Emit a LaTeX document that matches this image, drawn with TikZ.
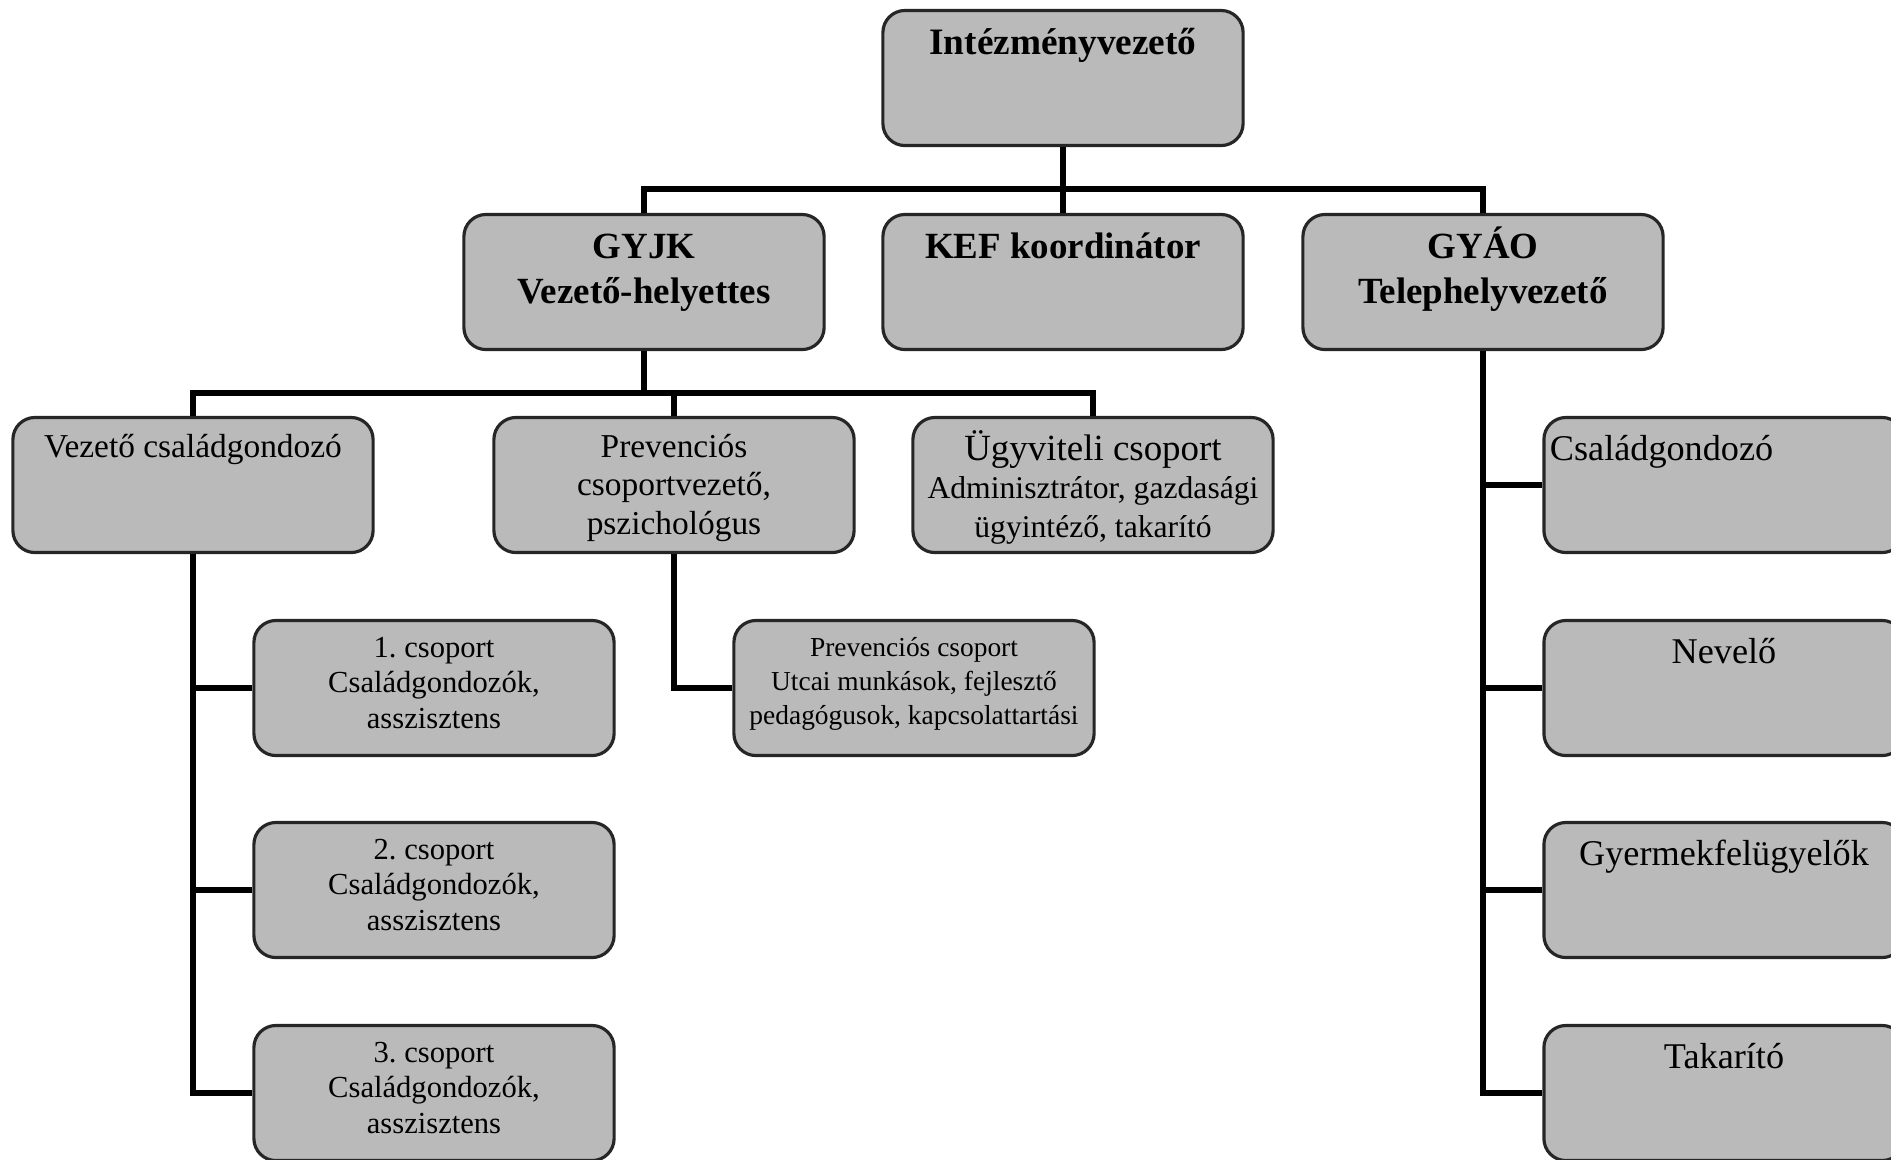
\documentclass[tikz,border=0pt]{standalone}
\usepackage{fontspec}
\setmainfont{Liberation Serif}
\usetikzlibrary{calc}
\frenchspacing

\tikzset{
	orgbox/.style={draw=black!85, line width=0.9pt, rounded corners=2.2mm,
		fill=black!27, inner sep=0pt, minimum width=3.6cm, minimum height=1.35cm},
	orgline/.style={line width=1.6pt, black},
}
% box text: #1 font and alignment, #2 text
\newcommand{\boxtxt}[2]{\parbox[c][1.35cm][t]{3.6cm}{#1\vspace*{3.6pt}\strut #2\par}}

\begin{document}
\begin{tikzpicture}[x=0.01cm, y=-0.01cm]
		\useasboundingbox (0,0) rectangle (1891,1159);
		\clip (0,0) rectangle (1891,1159);

		% top ==== V
		\node[orgbox] (ceo) at (1063,78)
			{\boxtxt{\centering\fontsize{10.6}{12.8}\selectfont\bfseries}{Intézményvezető}};

		% second level
		\node[orgbox] (gyjk) at (644,282)
			{\boxtxt{\centering\fontsize{10.5}{12.8}\selectfont\bfseries}{GYJK\\Vezető-helyettes}};
		\node[orgbox] (kef) at (1063,282)
			{\boxtxt{\centering\fontsize{10.5}{12.8}\selectfont\bfseries}{KEF koordinátor}};
		\node[orgbox] (gyao) at (1483,282)
			{\boxtxt{\centering\fontsize{10.5}{12.8}\selectfont\bfseries}{GYÁO\\Telephelyvezető}};

		% third level
		\node[orgbox] (vcs) at (193,485)
			{\boxtxt{\centering\fontsize{9.5}{11}\selectfont}{Vezető családgondozó}};
		\node[orgbox] (prev) at (674,485)
			{\boxtxt{\centering\fontsize{9.5}{11}\selectfont}{Prevenciós\\csoportvezető,\\pszichológus}};
		\node[orgbox] (ugy) at (1093,485)
			{\boxtxt{\centering\fontsize{9}{11}\selectfont}{{\fontsize{10.5}{11}\selectfont Ügyviteli csoport}\\Adminisztrátor, gazdasági\\ügyintéző, takarító}};

		% groups
		\foreach \i/\y in {1/688,2/890,3/1093}
			\node[orgbox] (grp\i) at (434,\y)
				{\boxtxt{\centering\fontsize{8.7}{10}\selectfont}{\i. csoport\\Családgondozók,\\asszisztens}};
		\node[orgbox] (pcs) at (914,688)
			{\boxtxt{\centering\fontsize{7.8}{9.6}\selectfont}{Prevenciós csoport\\Utcai munkások, fejlesztő\\pedagógusok, kapcsolattartási}};

		% right column
		\node[orgbox] (csg) at (1724,485)
			{\boxtxt{\raggedright\fontsize{10.3}{12.4}\selectfont}{\hspace*{0.6mm}Családgondozó}};
		\node[orgbox] (nev) at (1724,688)
			{\boxtxt{\centering\fontsize{10.3}{12.4}\selectfont}{Nevelő}};
		\node[orgbox] (gyf) at (1724,890)
			{\boxtxt{\centering\fontsize{10.3}{12.4}\selectfont}{Gyermekfelügyelők}};
		\node[orgbox] (tak) at (1724,1093)
			{\boxtxt{\centering\fontsize{10.3}{12.4}\selectfont}{Takarító}};
		% ==== A

		% connectors
		\coordinate (bus1) at (1063,189);
		\coordinate (bus2) at (674,393);
		\draw[orgline] (ceo.south) -- (kef.north);
		\draw[orgline] (gyjk.north) |- (bus1) -| (gyao.north);
		\draw[orgline] (gyjk.south) |- (bus2);
		\draw[orgline] (vcs.north) |- (bus2) -| (ugy.north);
		\draw[orgline] (bus2) -- (prev.north);
		\foreach \g in {grp1,grp2,grp3}
			\draw[orgline] (vcs.south) |- (\g.west);
		\draw[orgline] (prev.south) |- (pcs.west);
		\foreach \r in {csg,nev,gyf,tak}
			\draw[orgline] (gyao.south) |- (\r.west);
\end{tikzpicture}
\end{document}
